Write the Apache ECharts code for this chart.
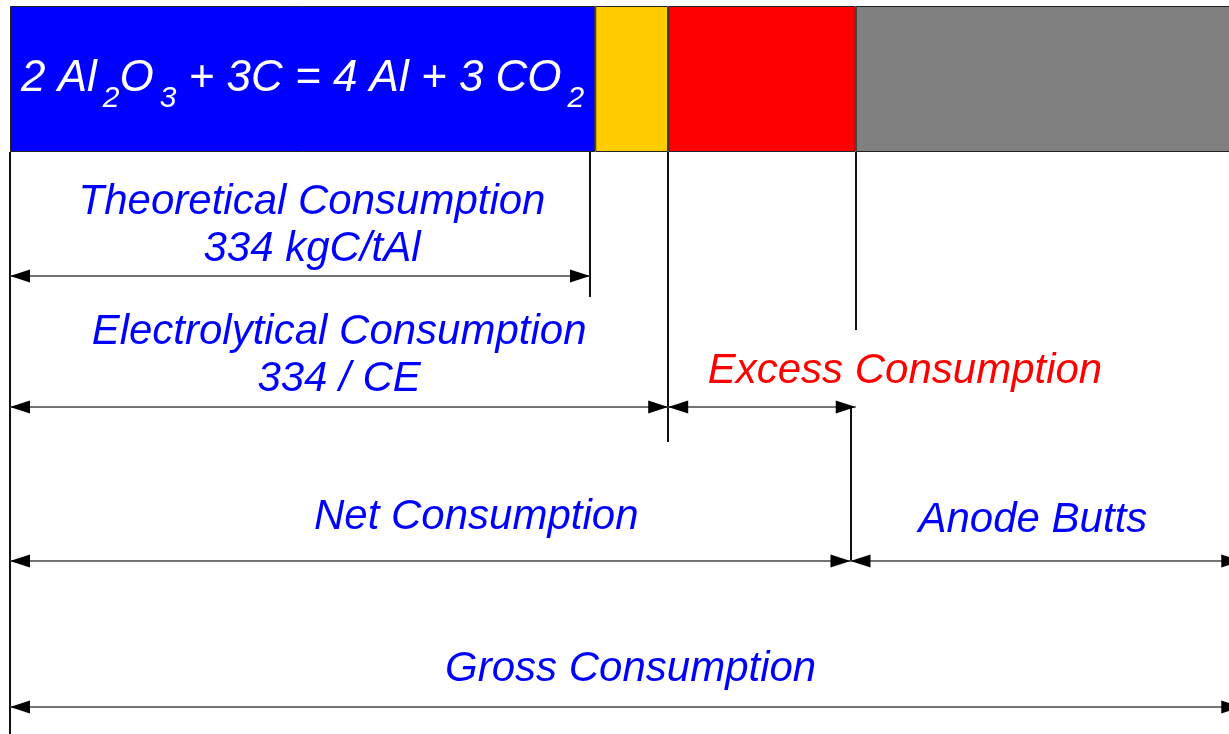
<!DOCTYPE html>
<html>
<head>
<meta charset="utf-8">
<title>Anode carbon consumption</title>
<script src="https://cdn.jsdelivr.net/npm/echarts@6/dist/echarts.min.js"></script>
<style>
  html, body { margin: 0; padding: 0; background: #fff; }
  #chart { width: 1229px; height: 734px; }
</style>
</head>
<body>
<div id="chart"></div>
<script>
// carbon, kgC/tAl (schematic)
const segmentNames = ['Theoretical', 'CE loss', 'Excess', 'Anode butts'];
const segmentValues = [337, 42, 108, 223];
const segmentColors = ['#0000ff', '#ffcc00', '#ff0000', '#808080'];

const dimLabels = [
  'Theoretical Consumption\n334 kgC/tAl',
  'Electrolytical Consumption\n334 / CE',
  'Excess Consumption',
  'Net Consumption',
  'Anode Butts',
  'Gross Consumption'
];
const dimStart = [0, 0, 379, 0, 484, 0];
const dimEnd = [334, 379, 487, 484, 709, 709];

// extension lines dropped from the bar
const guideX = [0, 334, 379, 487, 484];

// layout, px from the top
const dimLineY = [276, 407, 407, 561, 561, 707];
const dimLabelY = [226, 356, 371, 517, 520, 669];
const dimLabelDx = [12, 0, 143, 46, -13, 5];
const dimLabelColor = ['#0000ff', '#0000ff', '#ff0000', '#0000ff', '#0000ff', '#0000ff'];
const guideTop = [152, 152, 152, 152, 408];
const guideBottom = [734, 297, 442, 330, 561];

const FONT = 'Liberation Sans';
const HEAD_L = 20;
const HEAD_H = 6.5;

const chart = echarts.init(document.getElementById('chart'));

const renderDim = (params, api) => {
  const i = params.dataIndex;
  const y = api.coord([0, dimLineY[i]])[1];
  const x1 = api.coord([api.value(0), 0])[0];
  const x2 = api.coord([api.value(1), 0])[0];
  const ly = api.coord([0, dimLabelY[i]])[1];
  return {
    type: 'group',
    children: [
      {
        type: 'line',
        shape: { x1: x1, y1: y, x2: x2, y2: y },
        style: { stroke: '#444', lineWidth: 1.5 }
      },
      {
        type: 'polygon',
        shape: { points: [[x1, y], [x1 + HEAD_L, y - HEAD_H], [x1 + HEAD_L, y + HEAD_H]] },
        style: { fill: '#000' }
      },
      {
        type: 'polygon',
        shape: { points: [[x2, y], [x2 - HEAD_L, y - HEAD_H], [x2 - HEAD_L, y + HEAD_H]] },
        style: { fill: '#000' }
      },
      {
        type: 'text',
        x: (x1 + x2) / 2 + dimLabelDx[i],
        y: ly,
        style: {
          text: dimLabels[i],
          fill: dimLabelColor[i],
          fontSize: 42,
          fontStyle: 'italic',
          fontFamily: FONT,
          align: 'center',
          verticalAlign: 'middle',
          lineHeight: 47
        }
      }
    ]
  };
};

const renderGuide = (params, api) => {
  const i = params.dataIndex;
  const x = Math.round(api.coord([api.value(0), 0])[0]);
  const y1 = api.coord([0, guideTop[i]])[1];
  const y2 = api.coord([0, guideBottom[i]])[1];
  return {
    type: 'line',
    shape: { x1: x, y1: y1, x2: x, y2: y2 },
    style: { stroke: '#111', lineWidth: 2 }
  };
};

const barSeries = segmentValues.map((v, i) => ({
  name: segmentNames[i],
  type: 'bar',
  stack: 'carbon',
  xAxisIndex: 0,
  yAxisIndex: 0,
  barWidth: '100%',
  data: [v],
  itemStyle: { color: segmentColors[i], borderColor: '#222', borderWidth: 1 },
  label: i === 0 ? {
    show: true,
    position: 'inside',
    formatter: '{m|2 Al}{s|2}{m|O}{s|3}{m| + 3C = 4 Al + 3 CO}{s|2}',
    rich: {
      m: { color: '#fff', fontSize: 44, fontStyle: 'italic', fontFamily: FONT },
      s: { color: '#fff', fontSize: 30, fontStyle: 'italic', fontFamily: FONT, padding: [40, 0, 0, 6] }
    }
  } : { show: false }
}));

const option = {
  backgroundColor: '#fff',
  animation: false,
  grid: [
    { left: 10, width: 1233, top: 6, height: 146, outerBoundsMode: 'none' },
    { left: 10, width: 1233, top: 0, height: 734, outerBoundsMode: 'none' }
  ],
  xAxis: [
    { type: 'value', gridIndex: 0, min: 0, max: 710, show: false },
    { type: 'value', gridIndex: 1, min: 0, max: 710, show: false }
  ],
  yAxis: [
    { type: 'category', gridIndex: 0, data: ['anode'], show: false },
    { type: 'value', gridIndex: 1, min: 0, max: 734, inverse: true, show: false }
  ],
  series: [
    ...barSeries,
    {
      type: 'custom',
      xAxisIndex: 1,
      yAxisIndex: 1,
      renderItem: renderGuide,
      data: guideX.map(x => [x]),
      clip: false,
      silent: true
    },
    {
      type: 'custom',
      xAxisIndex: 1,
      yAxisIndex: 1,
      renderItem: renderDim,
      data: dimStart.map((s, i) => [s, dimEnd[i]]),
      clip: false,
      silent: true
    }
  ]
};

chart.setOption(option);
</script>
</body>
</html>
